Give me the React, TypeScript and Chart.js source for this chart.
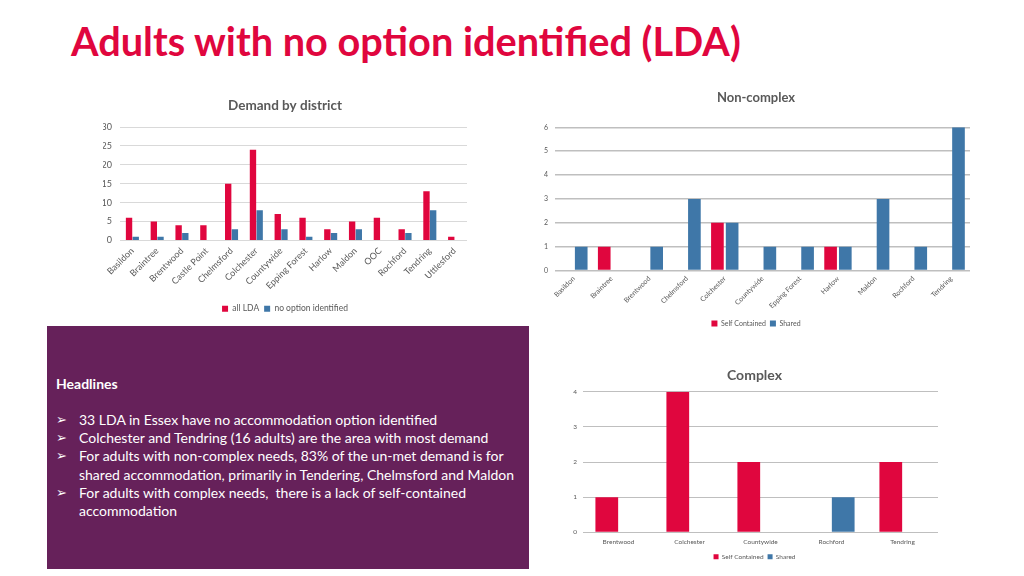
import React, { useEffect, useRef } from "react";
import { Chart, registerables } from "chart.js";

Chart.register(...registerables);

const RED = "#e0063e";
const BLUE = "#3f77a8";
const GREY = "#595959";
const FONT = 'Lato, "Open Sans", sans-serif';

// Demand by district
const districts = ["Basildon", "Braintree", "Brentwood", "Castle Point", "Chelmsford", "Colchester", "Countywide", "Epping Forest", "Harlow", "Maldon", "OOC", "Rochford", "Tendring", "Uttlesford"];
const allLDA = [6, 5, 4, 4, 15, 24, 7, 6, 3, 5, 6, 3, 13, 1];
const noOption = [1, 1, 2, 0, 3, 8, 3, 1, 2, 3, 0, 2, 8, 0];

// Non-complex
const ncDistricts = ["Basildon", "Braintree", "Brentwood", "Chelmsford", "Colchester", "Countywide", "Epping Forest", "Harlow", "Maldon", "Rochford", "Tendring"];
const ncSelf = [0, 1, 0, 0, 2, 0, 0, 1, 0, 0, 0];
const ncShared = [1, 0, 1, 3, 2, 1, 1, 1, 3, 1, 6];

// Complex
const cxDistricts = ["Brentwood", "Colchester", "Countywide", "Rochford", "Tendring"];
const cxSelf = [1, 4, 2, 0, 2];
const cxShared = [0, 0, 0, 1, 0];

const headlines = [
  ["33 LDA in Essex have no accommodation option identified"],
  ["Colchester and Tendring (16 adults) are the area with most demand"],
  ["For adults with non-complex needs, 83% of the un-met demand is for", "shared accommodation, primarily in Tendering, Chelmsford and Maldon"],
  ["For adults with complex needs,  there is a lack of self-contained", "accommodation"],
];

type P = {
  labels: string[];
  sets: { label: string; data: number[]; color: string }[];
  title: string;
  titleSize: number;
  titlePadTop: number;
  titlePadBottom: number;
  tickSize: number;
  xTickSize: number;
  yMax: number;
  yStep: number;
  yWidth: number;
  yPad: number;
  xHeight: number;
  xPad: number;
  rotation: number;
  padLeft: number;
  padRight: number;
  padBottom: number;
  legendSize: number;
  legendBox: number;
  legendPad: number;
  gridColor: string;
  gridWidth: number;
  catPct: number;
  barPct: number;
};

function barConfig(p: P): any {
  return {
    type: "bar",
    data: {
      labels: p.labels,
      datasets: p.sets.map((s) => ({
        label: s.label,
        data: s.data,
        backgroundColor: s.color,
        borderWidth: 0,
        categoryPercentage: p.catPct,
        barPercentage: p.barPct,
      })),
    },
    options: {
      responsive: false,
      animation: false,
      maintainAspectRatio: false,
      layout: { padding: { left: p.padLeft, right: p.padRight, top: 0, bottom: p.padBottom } },
      plugins: {
        title: {
          display: true,
          text: p.title,
          color: GREY,
          font: { family: FONT, size: p.titleSize, weight: "bold" },
          padding: { top: p.titlePadTop, bottom: p.titlePadBottom },
        },
        legend: {
          position: "bottom",
          labels: {
            color: GREY,
            boxWidth: p.legendBox,
            boxHeight: p.legendBox,
            padding: p.legendPad,
            font: { family: FONT, size: p.legendSize },
          },
        },
        tooltip: { enabled: false },
      },
      scales: {
        x: {
          grid: { display: false, drawTicks: false },
          border: { display: false },
          ticks: {
            color: GREY,
            autoSkip: false,
            minRotation: p.rotation,
            maxRotation: p.rotation,
            padding: p.xPad,
            font: { family: FONT, size: p.xTickSize },
          },
          afterFit: (s: any) => {
            s.height = p.xHeight;
          },
        },
        y: {
          min: 0,
          max: p.yMax,
          grid: { color: p.gridColor, lineWidth: p.gridWidth, drawTicks: false },
          border: { display: false },
          ticks: {
            stepSize: p.yStep,
            color: GREY,
            padding: p.yPad,
            font: { family: FONT, size: p.tickSize },
          },
          afterFit: (s: any) => {
            s.width = p.yWidth;
          },
        },
      },
    },
  };
}

function ChartBox({ x, y, w, h, cfg }: { x: number; y: number; w: number; h: number; cfg: () => any }) {
  const ref = useRef<HTMLCanvasElement>(null);
  useEffect(() => {
    const c = new Chart(ref.current as HTMLCanvasElement, cfg());
    return () => c.destroy();
  }, []);
  return (
    <div style={{ position: "absolute", left: x, top: y, width: w, height: h }}>
      <canvas ref={ref} width={w} height={h} style={{ width: w, height: h, display: "block" }} />
    </div>
  );
}

export default function App() {
  return (
    <div
      style={{
        position: "fixed",
        left: 0,
        top: 0,
        width: 1024,
        height: 576,
        background: "#ffffff",
        overflow: "hidden",
        fontFamily: FONT,
      }}
    >
      <div
        style={{
          position: "absolute",
          left: 71,
          top: 17,
          color: RED,
          fontSize: 39.7,
          fontWeight: 700,
          whiteSpace: "nowrap",
          lineHeight: "48px",
        }}
      >
        Adults with no option identified (LDA)
      </div>

      <ChartBox
        x={90}
        y={90}
        w={390}
        h={233}
        cfg={() =>
          barConfig({
            labels: districts,
            sets: [
              { label: "all LDA", data: allLDA, color: RED },
              { label: "no option identified", data: noOption, color: BLUE },
            ],
            title: "Demand by district",
            titleSize: 13.5,
            titlePadTop: 7.1,
            titlePadBottom: 13.7,
            tickSize: 9,
            xTickSize: 9,
            yMax: 30,
            yStep: 5,
            yWidth: 17,
            yPad: 8,
            xHeight: 59,
            xPad: 5,
            rotation: 45,
            padLeft: 13,
            padRight: 13,
            padBottom: 0,
            legendSize: 8.5,
            legendBox: 6,
            legendPad: 5,
            gridColor: "#d9d9d9",
            gridWidth: 1,
            catPct: 0.54,
            barPct: 0.95,
          })
        }
      />

      <ChartBox
        x={540}
        y={85}
        w={440}
        h={252}
        cfg={() =>
          barConfig({
            labels: ncDistricts,
            sets: [
              { label: "Self Contained", data: ncSelf, color: RED },
              { label: "Shared", data: ncShared, color: BLUE },
            ],
            title: "Non-complex",
            titleSize: 13,
            titlePadTop: 5,
            titlePadBottom: 21.7,
            tickSize: 7,
            xTickSize: 7,
            yMax: 6,
            yStep: 1,
            yWidth: 13,
            yPad: 7,
            xHeight: 45.5,
            xPad: 4,
            rotation: 45,
            padLeft: 2,
            padRight: 10,
            padBottom: 0,
            legendSize: 7,
            legendBox: 6,
            legendPad: 4,
            gridColor: "#bfbfbf",
            gridWidth: 1.5,
            catPct: 0.78,
            barPct: 0.86,
          })
        }
      />

      <div
        style={{
          position: "absolute",
          left: 47,
          top: 326,
          width: 482,
          height: 243,
          background: "#66215a",
        }}
      />
      <div
        style={{
          position: "absolute",
          left: 56,
          top: 375,
          color: "#ffffff",
          fontSize: 14,
          fontWeight: 700,
          lineHeight: "18px",
          whiteSpace: "nowrap",
        }}
      >
        Headlines
      </div>
      <div style={{ position: "absolute", left: 56, top: 411, color: "#ffffff", fontSize: 14, lineHeight: "18.2px" }}>
        {headlines.map((lines, i) => (
          <div key={i} style={{ position: "relative", paddingLeft: 23, whiteSpace: "pre" }}>
            <span style={{ position: "absolute", left: 0, top: 0, fontFamily: '"DejaVu Sans", sans-serif', fontSize: 13 }}>
              ➢
            </span>
            {lines.map((l, j) => (
              <div key={j}>{l}</div>
            ))}
          </div>
        ))}
      </div>

      <ChartBox
        x={550}
        y={360}
        w={400}
        h={210}
        cfg={() =>
          barConfig({
            labels: cxDistricts,
            sets: [
              { label: "Self Contained", data: cxSelf, color: RED },
              { label: "Shared", data: cxShared, color: BLUE },
            ],
            title: "Complex",
            titleSize: 14,
            titlePadTop: 7.3,
            titlePadBottom: 7.6,
            tickSize: 6.5,
            xTickSize: 6.5,
            yMax: 4,
            yStep: 1,
            yWidth: 12,
            yPad: 6,
            xHeight: 17.2,
            xPad: 6,
            rotation: 0,
            padLeft: 21,
            padRight: 12,
            padBottom: 0,
            legendSize: 6.5,
            legendBox: 5,
            legendPad: 4,
            gridColor: "#bfbfbf",
            gridWidth: 1,
            catPct: 0.66,
            barPct: 0.97,
          })
        }
      />
    </div>
  );
}
